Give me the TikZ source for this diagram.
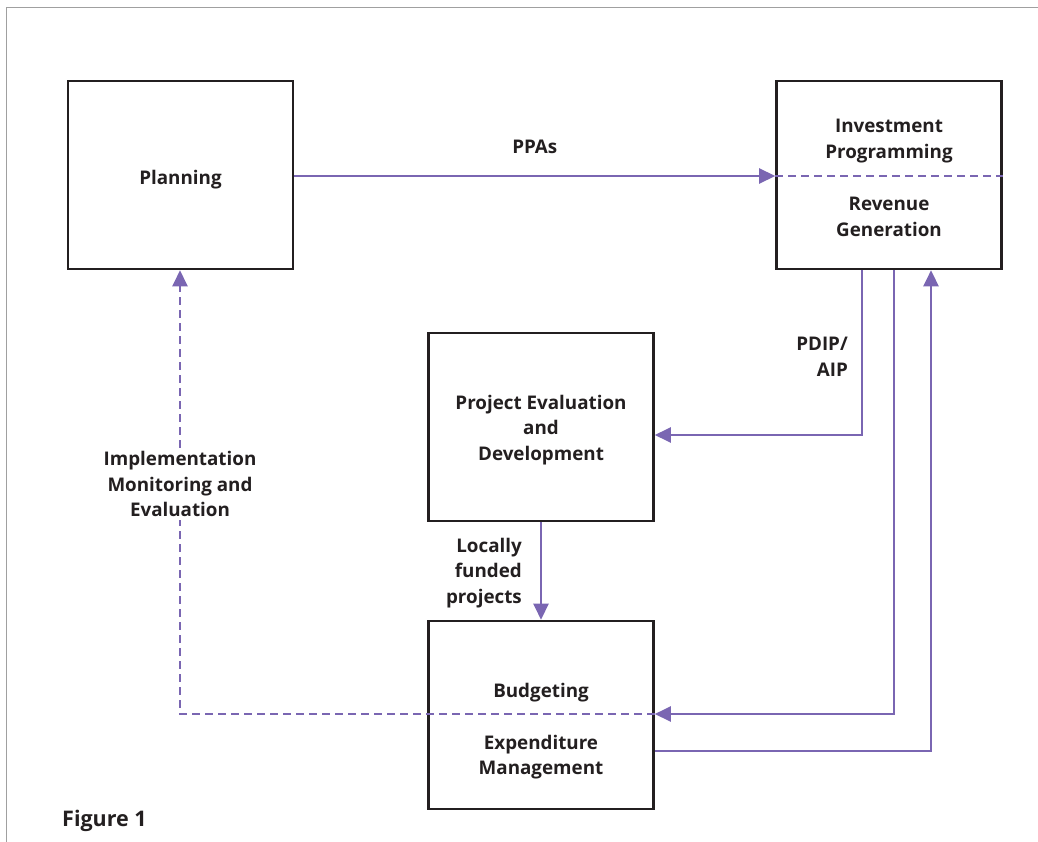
\documentclass[tikz,border=0pt]{standalone}
\usepackage{fontspec}
\setmainfont{Open Sans}
\usetikzlibrary{arrows.meta}
\definecolor{pur}{RGB}{122,102,178}
\definecolor{frm}{RGB}{160,160,160}
\definecolor{txt}{RGB}{35,31,32}
\begin{document}
\begin{tikzpicture}[x=1pt,y=-1pt,
  box/.style={draw=txt,line width=2.6pt,minimum width=225pt,minimum height=188pt,inner sep=0pt},
  lbl/.style={font=\fontsize{18.8}{25.5}\selectfont\bfseries,text=txt,align=center,inner sep=1pt},
  con/.style={draw=pur,line width=2.5pt},
  arr/.style={con,-{Triangle[length=16pt,width=15pt]}},
  dsh/.style={dash pattern=on 8pt off 5pt}]
\useasboundingbox (0,0) rectangle (1038,842);
\draw[frm,line width=1.6pt] (6.5,842) -- (6.5,7.5) -- (1038,7.5);
% boxes
\node[box] (plan) at (180.5,175) {};
\node[box] (inv) at (889,175) {};
\node[box] (ped) at (541,427) {};
\node[box] (bud) at (541,715) {};
% texts
\node[lbl] (tplan) at (180.5,180) {Planning};
\node[lbl] (tinv) at (889,141) {Investment\\Programming};
\node[lbl] (trev) at (889,217) {Revenue\\Generation};
\node[lbl] (tped) at (541,430) {Project Evaluation\\and\\Development};
\node[lbl] (tbud) at (541,693) {Budgeting};
\node[lbl] (texp) at (541,757) {Expenditure\\Management};
% connectors
\coordinate (invL) at (inv.west |- 0,176);
\coordinate (invR) at (inv.east |- 0,176);
\draw[con,dsh] (invL) -- (invR);
\draw[arr] (plan.east |- 0,176) -- (invL) node[lbl,midway,above=20pt] (tppa) {PPAs};
\coordinate (c1a) at (862,435);
\draw[arr] (inv.south -| 862,0) -- (c1a) -- (ped.east |- c1a);
\node[lbl,anchor=east,align=right] (tpdip) at (849,357) {PDIP/\\AIP};
\coordinate (c2a) at (894,714);
\draw[arr] (inv.south -| 894,0) -- (c2a) -- (bud.east |- c2a);
\coordinate (c3a) at (931,751);
\draw[arr] (bud.east |- c3a) -- (c3a) -- (inv.south -| c3a);
\coordinate (c4a) at (180,714);
\draw[arr,dsh] (bud.east |- c4a) -- (c4a) -- (plan.south -| c4a);
\node[lbl,fill=white,inner sep=3pt] (timp) at (180,484) {Implementation\\Monitoring and\\Evaluation};
\draw[arr] (ped.south) -- (bud.north);
\node[lbl,anchor=east,align=right] (tloc) at (523,573) {Locally\\funded\\projects};
\node[lbl,anchor=west,font=\fontsize{21.5}{24}\selectfont\bfseries] (tfig) at (61,821) {Figure 1};
\end{tikzpicture}
\end{document}
